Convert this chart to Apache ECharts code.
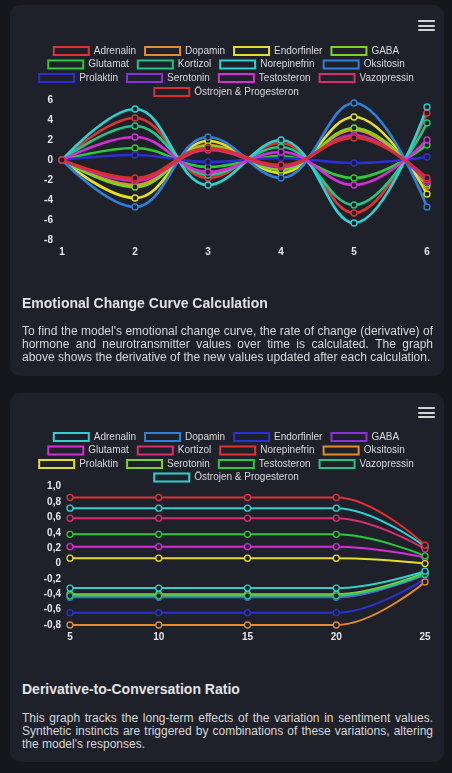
<!DOCTYPE html>
<html>
<head>
<meta charset="utf-8">
<script src="https://cdn.jsdelivr.net/npm/echarts@6/dist/echarts.min.js"></script>
<style>
html, body { margin:0; padding:0; width:452px; height:773px; background:#15171d; overflow:hidden;
	font-family:"Liberation Sans", Arial, sans-serif; }
.card { position:absolute; left:10px; width:434px; background:#1f212a; border-radius:10px; }
.chart { position:absolute; left:0; width:452px; height:270px; }
.menu { position:absolute; left:418px; width:17px; }
.menu div { height:2px; background:#d4d4d4; margin-bottom:2.5px; border-radius:1px; }
.title { position:absolute; left:22px; width:411px; font-size:14px; line-height:16px; font-weight:bold; color:#e2e2e4; }
.text { position:absolute; left:22px; width:411px; font-size:12px; line-height:13px; color:#d6d6d8; text-align:justify; }
</style>
</head>
<body>
<div class="card" style="top:5px;height:371px;"></div>
<div class="card" style="top:393px;height:369px;"></div>
<div id="chart_1" class="chart" style="top:0px;"></div>
<div id="chart_2" class="chart" style="top:390px;"></div>
<div class="menu" style="top:20px;"><div></div><div></div><div></div></div>
<div class="menu" style="top:407px;"><div></div><div></div><div></div></div>
<div class="title" style="top:295px;">Emotional Change Curve Calculation</div>
<div class="text" style="top:324.5px;">To find the model's emotional change curve, the rate of change (derivative) of hormone and neurotransmitter values over time is calculated. The graph above shows the derivative of the new values updated after each calculation.</div>
<div class="title" style="top:681px;">Derivative-to-Conversation Ratio</div>
<div class="text" style="top:711.5px;">This graph tracks the long-term effects of the variation in sentiment values. Synthetic instincts are triggered by combinations of these variations, altering the model's responses.</div>
<script>
//hormon / nörotransmitter isimleri
var hormone_names = ['Adrenalin', 'Dopamin', 'Endorfinler', 'GABA', 'Glutamat', 'Kortizol', 'Norepinefrin',
	'Oksitosin', 'Prolaktin', 'Serotonin', 'Testosteron', 'Vazopressin', 'Östrojen & Progesteron'];

//grafik 1: türev değerleri
var steps_1 = ['1', '2', '3', '4', '5', '6'];
var adrenalin_1    = [0, 4.2, -1.8, 1.7, -5.3, 4.7];
var dopamin_1      = [0, -2.5, 1.5, -0.9, 3.0, -2.6];
var endorfinler_1  = [0, -3.8, 1.9, -1.3, 4.3, -3.4];
var gaba_1         = [0, -2.7, 1.4, -1.0, 3.2, -2.4];
var glutamat_1     = [0, 1.2, -0.7, 0.4, -1.8, 1.5];
var kortizol_1     = [0, 3.4, -1.5, 1.3, -4.5, 3.7];
var norepinefrin_1 = [0, 5.1, -2.5, 2.0, -6.3, 5.3];
var oksitosin_1    = [0, -4.7, 2.3, -1.8, 5.7, -4.7];
var prolaktin_1    = [0, 0.5, -0.2, 0.2, -0.3, 0.3];
var serotonin_1    = [0, -2.1, 1.1, -0.7, 2.5, -2.2];
var testosteron_1  = [0, 2.3, -1.2, 0.8, -2.5, 2.0];
var vazopressin_1  = [0, -2.0, 1.0, -0.6, 2.4, -2.0];
var ostrojen_1     = [0, -1.8, 1.2, -0.5, 2.2, -1.8];

//grafik 2: türev / konuşma oranı
var steps_2 = ['5', '10', '15', '20', '25'];
var adrenalin_2    = [0.72, 0.72, 0.72, 0.72, 0.22];
var dopamin_2      = [-0.44, -0.44, -0.44, -0.44, -0.13];
var endorfinler_2  = [-0.64, -0.64, -0.64, -0.64, -0.20];
var gaba_2         = [-0.43, -0.43, -0.43, -0.43, -0.15];
var glutamat_2     = [0.22, 0.22, 0.22, 0.22, 0.08];
var kortizol_2     = [0.59, 0.59, 0.59, 0.59, 0.19];
var norepinefrin_2 = [0.86, 0.86, 0.86, 0.86, 0.24];
var oksitosin_2    = [-0.80, -0.80, -0.80, -0.80, -0.24];
var prolaktin_2    = [0.07, 0.07, 0.07, 0.07, 0.0];
var serotonin_2    = [-0.40, -0.40, -0.40, -0.40, -0.12];
var testosteron_2  = [0.38, 0.38, 0.38, 0.38, 0.10];
var vazopressin_2  = [-0.42, -0.42, -0.42, -0.42, -0.14];
var ostrojen_2     = [-0.32, -0.32, -0.32, -0.32, -0.10];

var values_1 = [adrenalin_1, dopamin_1, endorfinler_1, gaba_1, glutamat_1, kortizol_1, norepinefrin_1,
	oksitosin_1, prolaktin_1, serotonin_1, testosteron_1, vazopressin_1, ostrojen_1];
var values_2 = [adrenalin_2, dopamin_2, endorfinler_2, gaba_2, glutamat_2, kortizol_2, norepinefrin_2,
	oksitosin_2, prolaktin_2, serotonin_2, testosteron_2, vazopressin_2, ostrojen_2];

//renk paleti
var palette = ['#e03232', '#e68a30', '#e6dc2a', '#7fd126', '#2ec83a', '#25c483', '#2fd0d0',
	'#2f80d8', '#2b2fd6', '#8a30d8', '#d42ed4', '#d82e6e', '#d82e2e'];
//ikinci grafikte renkler 7 kaydırılmış
var palette_2 = ['#2fd0d0', '#2f80d8', '#2b2fd6', '#8a30d8', '#d42ed4', '#d82e6e', '#e03232',
	'#e68a30', '#e6dc2a', '#7fd126', '#2ec83a', '#25c483', '#2fd0d0'];

var card_bg = '#1f212a';

//legend satırları (her satır ortalanır)
function build_legends(colors, tops)
{
	var rows = [hormone_names.slice(0, 4), hormone_names.slice(4, 8), hormone_names.slice(8, 12), hormone_names.slice(12)];
	var legends = [];
	for (var r = 0; r < rows.length; r++) {
		legends.push({
			left: 'center',
			top: tops[r],
			itemWidth: 35,
			itemHeight: 8,
			itemGap: 8,
			icon: 'rect',
			selectedMode: false,
			textStyle: { color: '#d8d8da', fontSize: 10, fontFamily: 'Liberation Sans, Arial, sans-serif' },
			data: rows[r].map(function (n) {
				var c = colors[hormone_names.indexOf(n)];
				return { name: n, itemStyle: { color: 'transparent', borderColor: c, borderWidth: 2 } };
			})
		});
	}
	return legends;
}

function build_series(values, colors, width)
{
	return values.map(function (v, i) {
		return {
			name: hormone_names[i],
			type: 'line',
			data: v,
			smooth: 0.4,
			symbol: 'circle',
			symbolSize: 6,
			lineStyle: { color: colors[i], width: width },
			itemStyle: { color: card_bg, borderColor: colors[i], borderWidth: 1.3 }
		};
	});
}

var axis_label = { color: '#e6e6e8', fontSize: 10, fontWeight: 'bold', fontFamily: 'Liberation Sans, Arial, sans-serif' };

var chart_1 = echarts.init(document.getElementById('chart_1'));
chart_1.setOption({
	animation: false,
	legend: build_legends(palette, [41, 54.5, 68, 82]),
	grid: { left: 62, right: 25, top: 100, bottom: 30 },
	xAxis: {
		type: 'category', data: steps_1, boundaryGap: false,
		axisLine: { show: false }, axisTick: { show: false }, splitLine: { show: false },
		axisLabel: Object.assign({ margin: 7 }, axis_label)
	},
	yAxis: {
		type: 'value', min: -8, max: 6, interval: 2,
		axisLine: { show: false }, axisTick: { show: false }, splitLine: { show: false },
		axisLabel: Object.assign({ margin: 9 }, axis_label)
	},
	series: build_series(values_1, palette, 2.7)
});

var chart_2 = echarts.init(document.getElementById('chart_2'));
chart_2.setOption({
	animation: false,
	legend: build_legends(palette_2, [37, 50.5, 64, 77.5]),
	grid: { left: 70, right: 27, top: 96.7, bottom: 35 },
	xAxis: {
		type: 'category', data: steps_2, boundaryGap: false,
		axisLine: { show: false }, axisTick: { show: false }, splitLine: { show: false },
		axisLabel: Object.assign({ margin: 7 }, axis_label)
	},
	yAxis: {
		type: 'value', min: -0.8, max: 1.0, interval: 0.2,
		axisLine: { show: false }, axisTick: { show: false }, splitLine: { show: false },
		axisLabel: Object.assign({
			margin: 9,
			formatter: function (v) {
				if (Math.abs(v) < 1e-9) return '0';
				return v.toFixed(1).replace('.', ',');
			}
		}, axis_label)
	},
	series: build_series(values_2, palette_2, 2)
});
</script>
</body>
</html>
